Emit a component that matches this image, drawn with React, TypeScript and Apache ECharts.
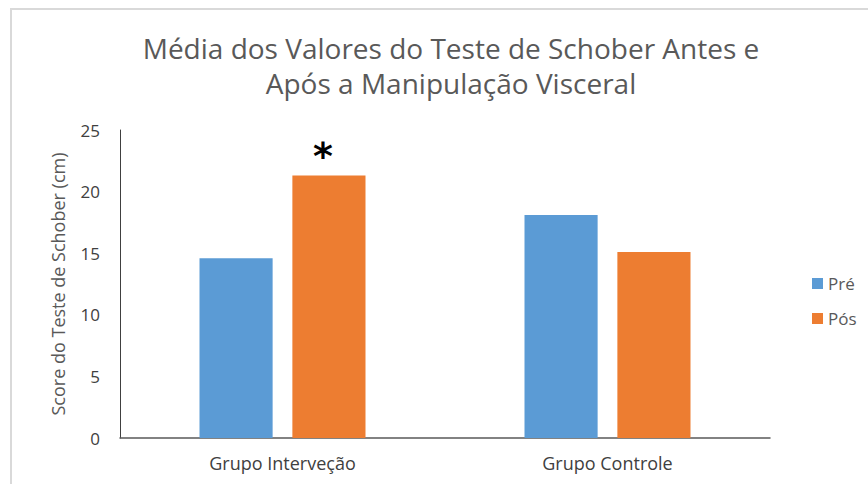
import React, { useEffect, useRef } from "react";
import * as echarts from "echarts";

const categories = ["Grupo Interveção", "Grupo Controle"];
const preValues = [14.6, 18.1];
const posValues = [21.3, 15.1];
const seriesNames = ["Pré", "Pós"];
const titleText = "Média dos Valores do Teste de Schober Antes e\nApós a Manipulação Visceral";
const yAxisName = "Score do Teste de Schober (cm)";
const significanceMark = "*";

const FONT = "Open Sans";

export default function App() {
  const ref = useRef<HTMLDivElement>(null);
  useEffect(() => {
    if (!ref.current) return;
    const chart = echarts.init(ref.current, undefined, { renderer: "svg" });
    chart.setOption({
      animation: false,
      backgroundColor: "#ffffff",
      title: {
        text: titleText,
        left: 446,
        top: 25,
        textAlign: "center",
        textStyle: {
          fontFamily: FONT,
          fontSize: 28,
          fontWeight: "normal",
          color: "#595959",
          lineHeight: 35,
        },
      },
      graphic: [
        {
          type: "rect",
          shape: { x: 11, y: 9, width: 900, height: 520 },
          style: { fill: "none", stroke: "#d9d9d9", lineWidth: 2 },
          silent: true,
        },
      ],
      legend: {
        orient: "vertical",
        left: 807,
        top: 270,
        itemWidth: 11,
        itemHeight: 11,
        itemGap: 18,
        icon: "rect",
        textStyle: { fontFamily: FONT, fontSize: 17, color: "#595959" },
        data: seriesNames,
      },
      grid: { left: 120, right: 98, top: 130, bottom: 46 },
      xAxis: {
        type: "category",
        data: categories,
        axisLine: { lineStyle: { color: "#595959", width: 1.5 } },
        axisTick: { show: false },
        axisLabel: { fontFamily: FONT, fontSize: 18, color: "#404040", margin: 16 },
      },
      yAxis: {
        type: "value",
        min: 0,
        max: 25,
        interval: 5,
        name: yAxisName,
        nameLocation: "middle",
        nameGap: 53,
        nameTextStyle: { fontFamily: FONT, fontSize: 18, color: "#595959" },
        axisLine: { show: true, lineStyle: { color: "#404040", width: 1 } },
        axisTick: { show: false },
        splitLine: { show: false },
        axisLabel: { fontFamily: FONT, fontSize: 17, color: "#404040", margin: 20 },
      },
      series: [
        {
          name: seriesNames[0],
          type: "bar",
          data: preValues,
          barWidth: "22.5%",
          barGap: "27%",
          itemStyle: { color: "#5B9BD5" },
        },
        {
          name: seriesNames[1],
          type: "bar",
          data: posValues.map((v, i) =>
            i === 0
              ? {
                  value: v,
                  label: {
                    show: true,
                    position: "top",
                    formatter: significanceMark,
                    fontSize: 38,
                    fontWeight: "bold",
                    color: "#000000",
                    fontFamily: "DejaVu Sans",
                    distance: 1,
                    offset: [-6, 0],
                  },
                }
              : v
          ),
          barWidth: "22.5%",
          itemStyle: { color: "#ED7D31" },
        },
      ],
    });
    return () => chart.dispose();
  }, []);
  return (
    <div
      ref={ref}
      style={{ position: "fixed", left: 0, top: 0, width: 868, height: 484 }}
    />
  );
}
